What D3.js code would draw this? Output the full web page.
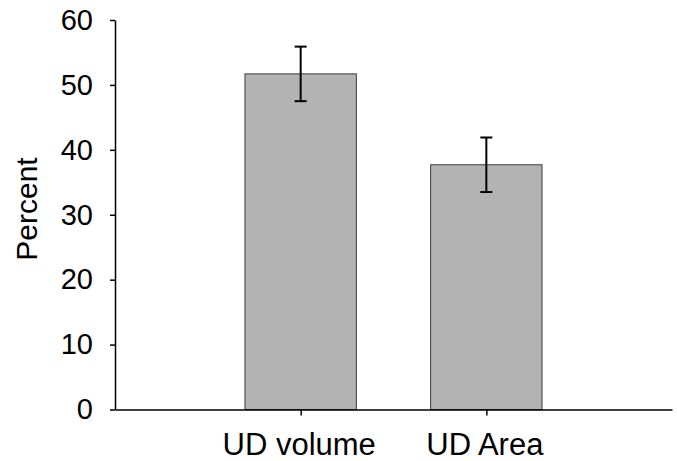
<!DOCTYPE html>
<html>
<head>
<meta charset="utf-8">
<script src="https://cdn.jsdelivr.net/npm/d3@7"></script>
<style>
  html, body { margin: 0; padding: 0; background: #fff; }
  svg { display: block; font-family: "Liberation Sans", Arial, sans-serif; }
</style>
</head>
<body>
<svg id="chart" width="677" height="461"></svg>
<script>
const categories = ["UD volume", "UD Area"];
const values = [51.7, 37.7];
const errors = [4.2, 4.2];
const yTicks = [0, 10, 20, 30, 40, 50, 60];
const yLabel = "Percent";

const svg = d3.select("#chart");
const x0 = 115, x1 = 672, yTop = 20, yBot = 409.5;

const x = d3.scalePoint().domain(categories).range([x0, x1]).padding(1);
const y = d3.scaleLinear().domain([0, 60]).range([yBot, yTop]);
const barW = x.step() * 0.6;

// bars
svg.append("g").selectAll("rect").data(values).join("rect")
  .attr("x", (d, i) => x(categories[i]) - barW / 2)
  .attr("y", d => y(d))
  .attr("width", barW)
  .attr("height", d => y(0) - y(d))
  .attr("fill", "#b3b3b3")
  .attr("stroke", "#3a3a3a")
  .attr("stroke-width", 1);

// error bars
const eg = svg.append("g").attr("stroke", "#000").attr("stroke-width", 2);
values.forEach((v, i) => {
  const cx = x(categories[i]);
  eg.append("line").attr("x1", cx).attr("x2", cx).attr("y1", y(v + errors[i])).attr("y2", y(v - errors[i]));
  eg.append("line").attr("x1", cx - 6).attr("x2", cx + 6).attr("y1", y(v + errors[i])).attr("y2", y(v + errors[i]));
  eg.append("line").attr("x1", cx - 6).attr("x2", cx + 6).attr("y1", y(v - errors[i])).attr("y2", y(v - errors[i]));
});

// y axis
const yAxis = svg.append("g").attr("transform", `translate(${x0},0)`)
  .call(d3.axisLeft(y).tickValues(yTicks).tickSize(5).tickSizeOuter(0).tickPadding(17));
yAxis.select(".domain").attr("stroke", "#000").attr("stroke-width", 1.5);
yAxis.selectAll(".tick line").attr("stroke", "#000").attr("stroke-width", 1.5);
yAxis.selectAll(".tick text").attr("font-size", 29).attr("fill", "#000")
  .attr("font-family", "Liberation Sans, Arial, sans-serif");

// x axis
const xAxis = svg.append("g").attr("transform", `translate(0,${yBot})`)
  .call(d3.axisBottom(x).tickSize(6).tickSizeOuter(0).tickPadding(17));
xAxis.select(".domain").attr("stroke", "#000").attr("stroke-width", 1.5);
xAxis.selectAll(".tick line").attr("stroke", "#000").attr("stroke-width", 1.5);
xAxis.selectAll(".tick text").attr("font-size", 31).attr("fill", "#000")
  .attr("font-family", "Liberation Sans, Arial, sans-serif").attr("dx", -2);

// y label
svg.append("text")
  .attr("transform", `translate(37,209) rotate(-90)`)
  .attr("text-anchor", "middle")
  .attr("font-size", 30)
  .attr("fill", "#000")
  .text(yLabel);
</script>
</body>
</html>
